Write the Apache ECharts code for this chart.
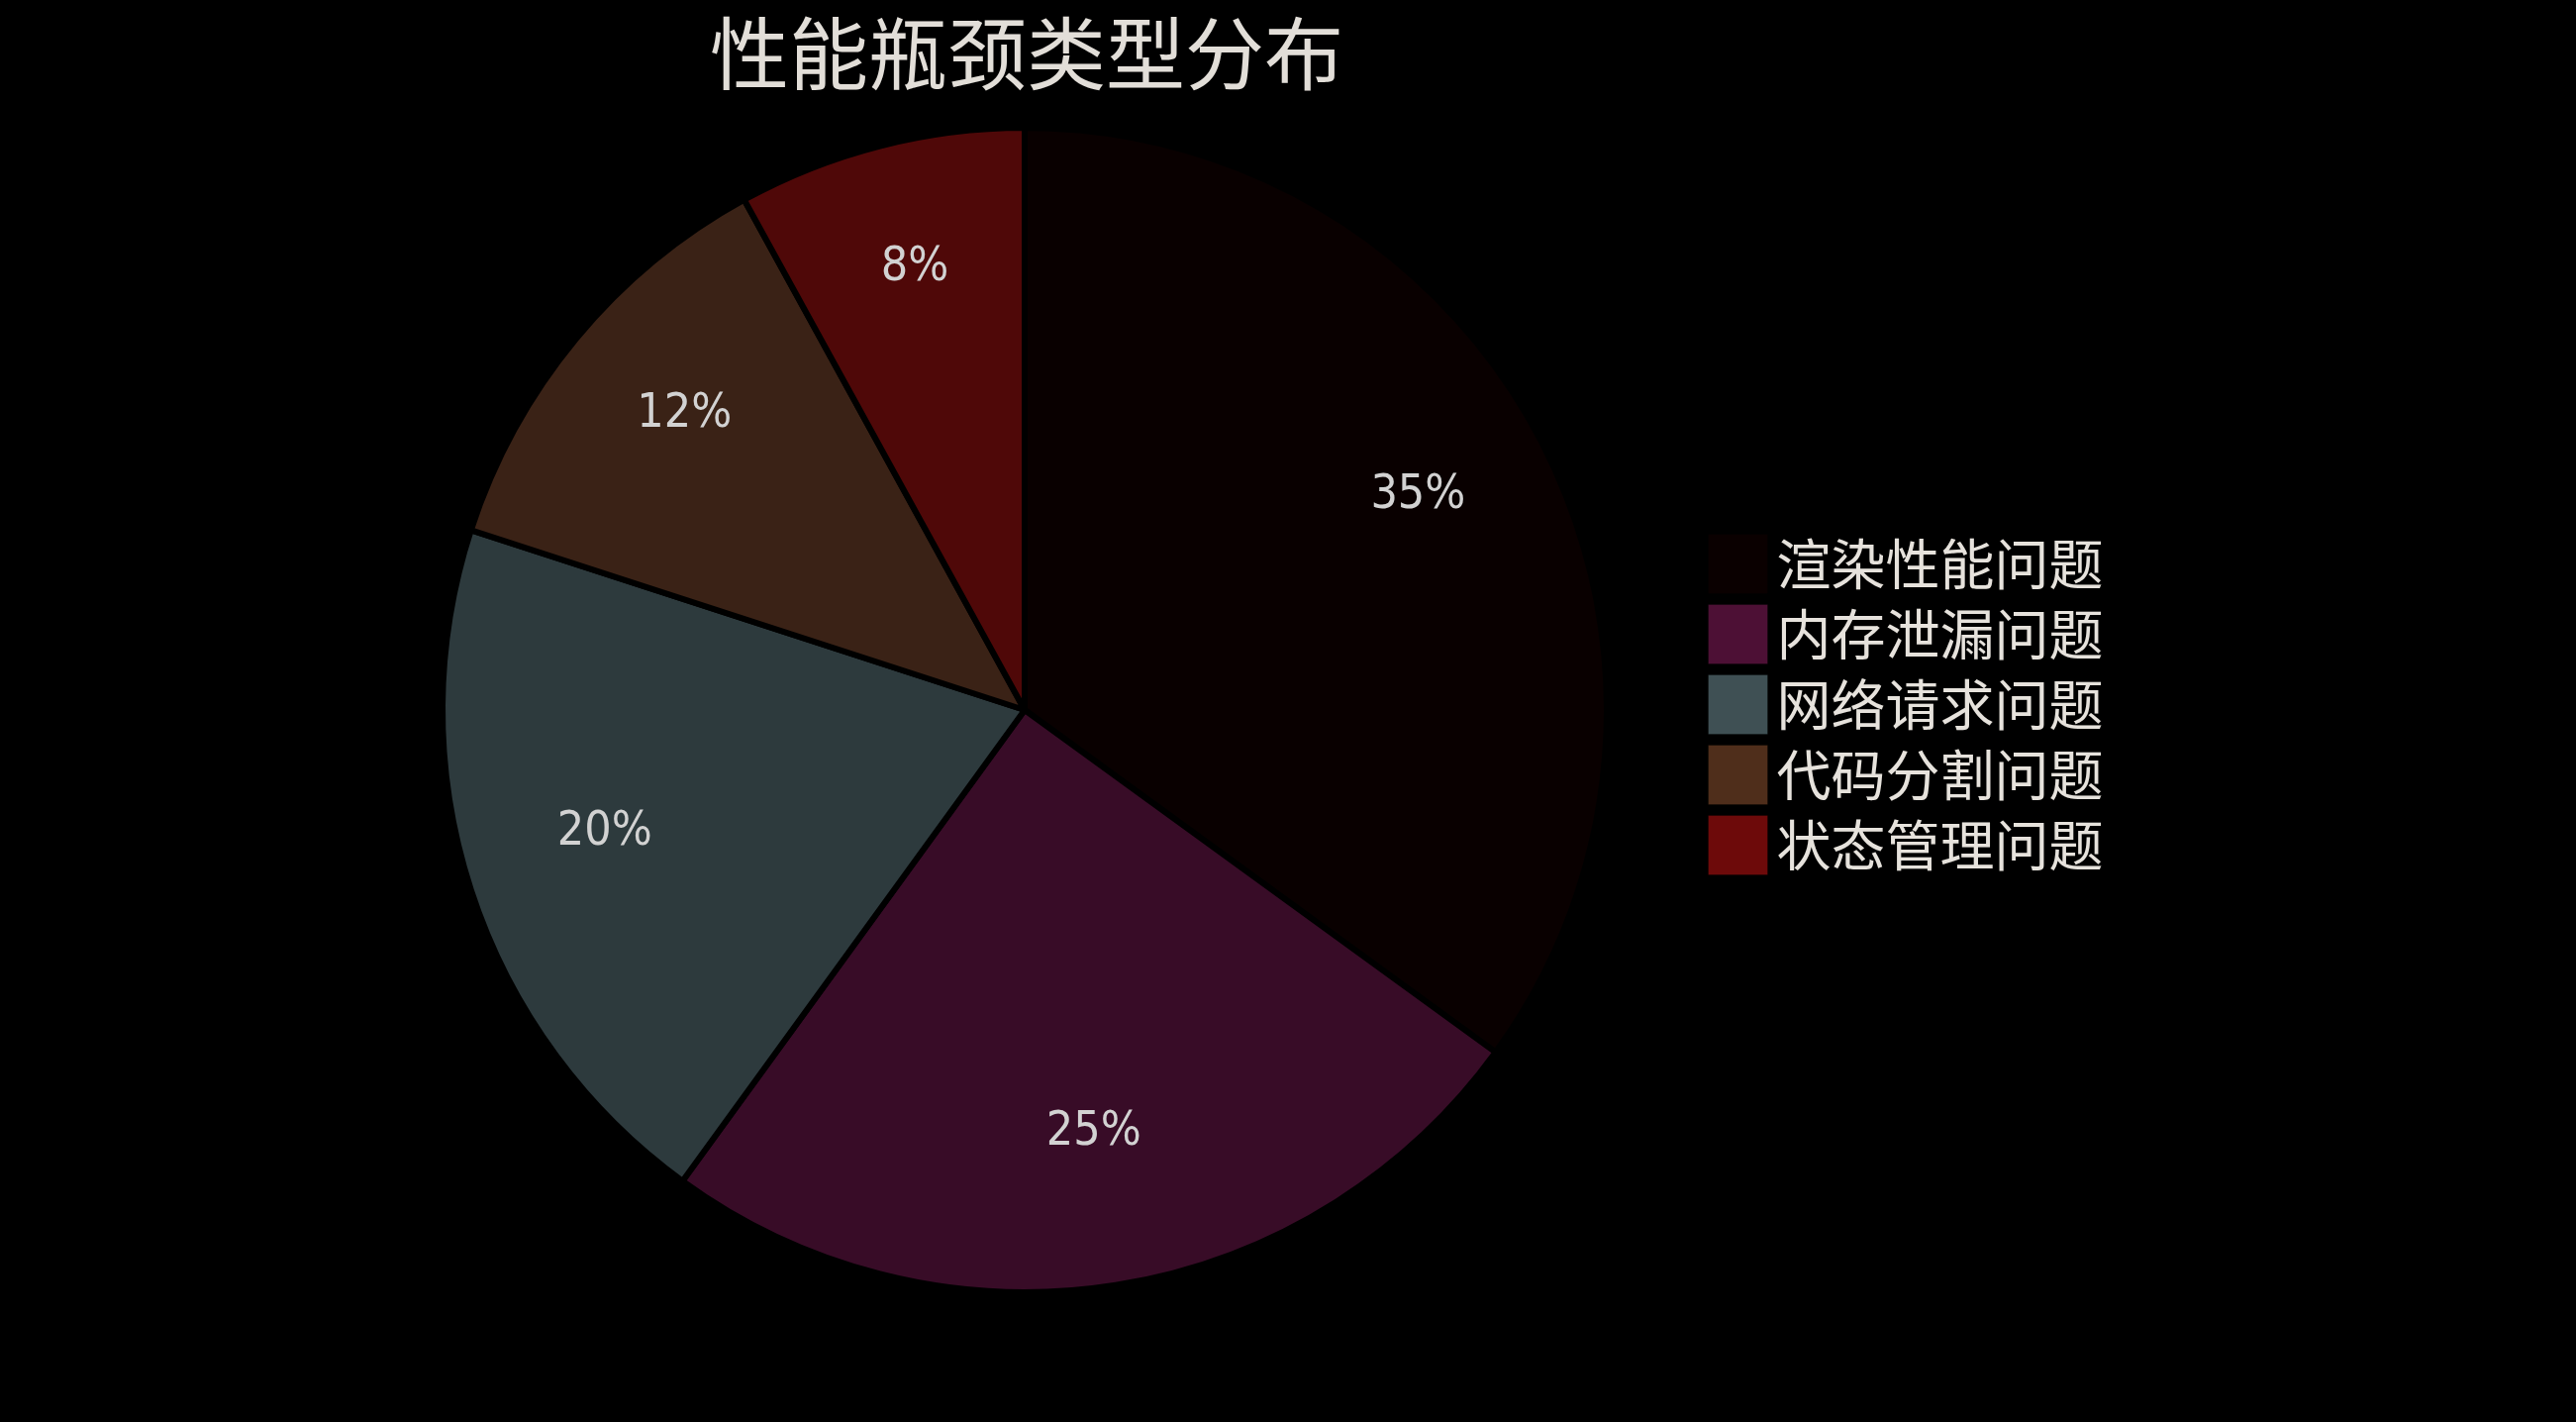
<!DOCTYPE html>
<html>
<head>
<meta charset="utf-8">
<script src="https://cdn.jsdelivr.net/npm/echarts@6/dist/echarts.min.js"></script>
<style>
html,body{margin:0;padding:0;background:#000;}
#chart{width:2602px;height:1436px;}
</style>
</head>
<body>
<div id="chart"></div>
<script>
const titleText = '性能瓶颈类型分布';
const categories = ['渲染性能问题', '内存泄漏问题', '网络请求问题', '代码分割问题', '状态管理问题'];
const values = [35, 25, 20, 12, 8];
const legendColors = ['#0a0000', '#4d1035', '#3f5054', '#4f2e1b', '#6d0a0a'];
const sliceColors = ['#090000', '#380c27', '#2d3a3d', '#3a2216', '#4f0808'];

const chart = echarts.init(document.getElementById('chart'));
const pieData = categories.map((c, i) => ({ name: c, value: values[i], itemStyle: { color: sliceColors[i] } }));

chart.setOption({
  backgroundColor: '#000000',
  animation: false,
  title: {
    text: titleText,
    left: 712,
    top: 9,
    textStyle: { color: '#e2ded8', fontSize: 80, fontWeight: 'normal', fontFamily: 'Noto Sans CJK SC' }
  },
  legend: {
    orient: 'vertical',
    left: 1720,
    top: 534,
    itemWidth: 60,
    itemHeight: 60,
    itemGap: 10,
    icon: 'rect',
    selectedMode: false,
    data: categories.map((c, i) => ({ name: c, itemStyle: { color: legendColors[i], opacity: 1, borderColor: 'rgba(0,0,0,0.25)', borderWidth: 1 } })),
    textStyle: { color: '#e6e2dc', fontSize: 55, fontFamily: 'Noto Sans CJK SC', padding: [0, 0, 0, 4] }
  },
  series: [
    {
      type: 'pie',
      center: [1035, 717],
      radius: [0, 588],
      startAngle: 90,
      clockwise: true,
      silent: true,
      label: { show: false },
      labelLine: { show: false },
      itemStyle: { borderColor: '#000000', borderWidth: 6 },
      data: pieData
    },
    {
      type: 'pie',
      center: [1035, 717],
      radius: [298, 588],
      startAngle: 90,
      clockwise: true,
      silent: true,
      legendHoverLink: false,
      itemStyle: { color: 'rgba(0,0,0,0)', borderWidth: 0 },
      label: {
        show: true,
        position: 'inside',
        formatter: p => p.value + '%',
        color: '#d2d2d2',
        fontSize: 48,
        offset: [0, -14],
        fontFamily: "'Liberation Sans Narrow', 'DejaVu Sans Condensed', sans-serif"
      },
      labelLine: { show: false },
      data: categories.map((c, i) => ({ name: c, value: values[i] }))
    }
  ]
});
</script>
</body>
</html>
